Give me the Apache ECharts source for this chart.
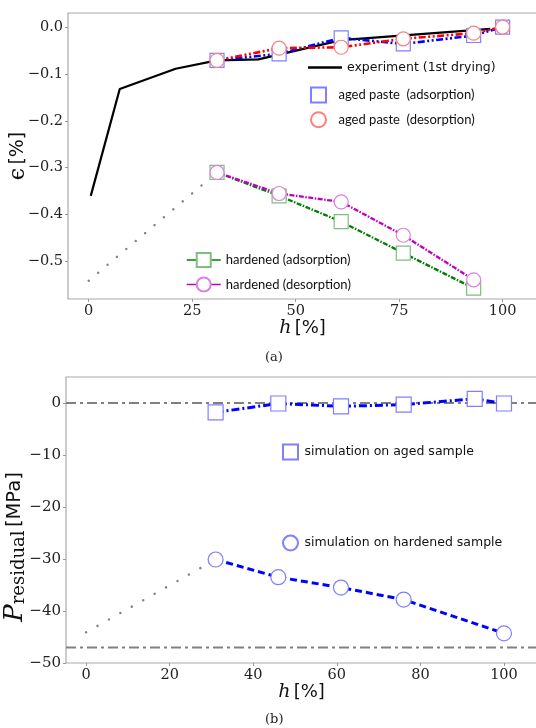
<!DOCTYPE html>
<html>
<head>
<meta charset="utf-8">
<script src="https://cdn.jsdelivr.net/npm/echarts@6/dist/echarts.min.js"></script>
<style>
html,body{margin:0;padding:0;background:#fff;}
#chart{width:536px;height:728px;}
</style>
</head>
<body>
<div id="chart"></div>
<script>
// ---------- data: panel (a) ----------
const hAged = [31, 46, 61, 76, 93, 100];
const agedAdsorption = [-0.071, -0.057, -0.023, -0.036, -0.018, 0.0];
const agedDesorption = [-0.071, -0.045, -0.043, -0.025, -0.013, 0.0];
const hHardA = [31, 46, 61, 76, 93];
const hardenedAdsorption = [-0.31, -0.36, -0.415, -0.482, -0.557];
const hardenedDesorption = [-0.31, -0.355, -0.373, -0.444, -0.539];
const hExperiment = [0.5, 7.5, 21, 31, 41, 61, 97];
const epsExperiment = [-0.36, -0.132, -0.089, -0.071, -0.069, -0.028, -0.004];
const hExtrapA = [0, 31];
const epsExtrapA = [-0.541, -0.31];
const ticksXA = [0, 25, 50, 75, 100];
const ticksYA = [-0.5, -0.4, -0.3, -0.2, -0.1, 0.0];

// ---------- data: panel (b) ----------
const hAgedB = [31, 46, 61, 76, 93, 100];
const pAged = [-1.8, -0.1, -0.65, -0.3, 0.8, -0.1];
const hHardB = [31, 46, 61, 76, 100];
const pHardened = [-30.1, -33.5, -35.5, -37.8, -44.3];
const hExtrapB = [0, 31];
const pExtrapB = [-44.1, -30.1];
const refLevels = [0, -47];
const ticksXB = [0, 20, 40, 60, 80, 100];
const ticksYB = [-50, -40, -30, -20, -10, 0];

const zip = (xs, ys) => xs.map((x, i) => [x, ys[i]]);
const minus = v => (v < 0 ? '\u2212' : '') + Math.abs(v);

const serif = 'DejaVu Serif';
const sans = 'DejaVu Sans';
const legSans = 'Lato';
const gray = '#808080';

const XA = {min: -5, max: 108.3};
const XB = {min: -4.8, max: 107.9};

const sqPath = 'path://M0,0H10V10H0Z';
const circPath = 'path://M5,0A5,5 0 1,1 4.999,0Z';

const chart = echarts.init(document.getElementById('chart'), null, {renderer: 'canvas'});

function axisX(gi, lim, ticks) {
  return {
    type: 'value', gridIndex: gi, min: lim.min, max: lim.max,
    axisLine: {show: false, onZero: false},
    splitLine: {show: false},
    axisTick: {show: true, length: 3, customValues: ticks, lineStyle: {color: '#999'}},
    axisLabel: {customValues: ticks, margin: 5, fontFamily: serif, fontSize: 14.5, color: '#222'},
    name: '{i|h} {s|[%]}', nameLocation: 'middle', nameGap: 20, nameMoveOverlap: false,
    nameTextStyle: {rich: {
      i: {fontFamily: serif, fontStyle: 'italic', fontSize: 19, color: '#111'},
      s: {fontFamily: sans, fontSize: 18, color: '#111'}
    }}
  };
}

const gridBase = {right: -1, height: 286, show: true, borderColor: '#aaa', borderWidth: 1.2,
  containLabel: false, outerBoundsMode: 'none'};

const option = {
  animation: false,
  backgroundColor: '#fff',
  grid: [
    Object.assign({left: 68, top: 13}, gridBase),
    Object.assign({left: 66, top: 377}, gridBase)
  ],
  xAxis: [axisX(0, XA, ticksXA), axisX(1, XB, ticksXB)],
  yAxis: [
    {
      type: 'value', gridIndex: 0, min: -0.58, max: 0.03,
      axisLine: {show: false, onZero: false}, splitLine: {show: false},
      axisTick: {show: true, length: 3, customValues: ticksYA, lineStyle: {color: '#999'}},
      axisLabel: {customValues: ticksYA, margin: 5, fontFamily: serif, fontSize: 14.5, color: '#222',
        formatter: v => (v < 0 ? '\u2212' : '') + Math.abs(v).toFixed(1)},
      name: '{e|\u03f5} {s|[%]}', nameLocation: 'middle', nameGap: 39, nameRotate: 90,
      nameMoveOverlap: false,
      nameTextStyle: {rich: {
        e: {fontFamily: serif, fontSize: 22, color: '#111'},
        s: {fontFamily: sans, fontSize: 19, color: '#111'}
      }}
    },
    {
      type: 'value', gridIndex: 1, min: -50, max: 5,
      axisLine: {show: false, onZero: false}, splitLine: {show: false},
      axisTick: {show: true, length: 3, customValues: ticksYB, lineStyle: {color: '#999'}},
      axisLabel: {customValues: ticksYB, margin: 5, fontFamily: serif, fontSize: 15, color: '#222',
        formatter: v => minus(v)},
      name: '{p|P}{r|residual} {s|[MPa]}', nameLocation: 'middle', nameGap: 38, nameRotate: 90,
      nameMoveOverlap: false,
      nameTextStyle: {padding: [0, 54, 0, 0], rich: {
        p: {fontFamily: serif, fontStyle: 'italic', fontSize: 26, lineHeight: 26, verticalAlign: 'middle', color: '#111'},
        r: {fontFamily: serif, fontSize: 18, lineHeight: 14, verticalAlign: 'bottom', color: '#111'},
        s: {fontFamily: sans, fontSize: 19.5, lineHeight: 26, verticalAlign: 'middle', color: '#111'}
      }}
    }
  ],
  legend: [
    {
      data: [{name: 'experiment (1st drying)', icon: 'rect', itemStyle: {color: '#000', borderWidth: 0}}],
      left: 303, top: 56, itemWidth: 34, itemHeight: 2.5, selectedMode: false,
      textStyle: {fontFamily: sans, fontSize: 12.5, color: '#111'}
    },
    {
      data: [
        {name: 'aged paste  (adsorption)', icon: sqPath},
        {name: 'aged paste  (desorption)', icon: circPath}
      ],
      orient: 'vertical', left: 305, top: 81.5, itemWidth: 30, itemHeight: 15, itemGap: 7.7,
      selectedMode: false, symbolKeepAspect: true,
      textStyle: {fontFamily: legSans, fontSize: 13, color: '#111'}
    },
    {
      data: ['hardened (adsorption)', 'hardened (desorption)'],
      orient: 'vertical', left: 181, top: 247, itemWidth: 34, itemHeight: 17.5, itemGap: 8.5,
      selectedMode: false,
      lineStyle: {type: 'solid', width: 1.5},
      textStyle: {fontFamily: legSans, fontSize: 13, color: '#111'}
    },
    {
      data: [
        {name: 'simulation on aged sample', icon: sqPath},
        {name: 'simulation on hardened sample', icon: circPath}
      ],
      orient: 'vertical', left: 277, top: 438.5, itemWidth: 18, itemHeight: 15, itemGap: 74,
      selectedMode: false, symbolKeepAspect: true,
      textStyle: {fontFamily: sans, fontSize: 12.5, color: '#111'}
    }
  ],
  series: [
    // ---- panel (a) ----
    {
      name: 'extrapA', type: 'line', xAxisIndex: 0, yAxisIndex: 0, data: zip(hExtrapA, epsExtrapA),
      symbol: 'none', silent: true,
      lineStyle: {color: gray, width: 2.4, type: [0.1, 12.2], cap: 'round'}
    },
    {
      name: 'experiment (1st drying)', type: 'line', xAxisIndex: 0, yAxisIndex: 0,
      data: zip(hExperiment, epsExperiment), symbol: 'none', silent: true,
      lineStyle: {color: '#000', width: 2.2}, itemStyle: {color: '#000'}
    },
    {
      name: 'aged paste  (adsorption)', type: 'line', xAxisIndex: 0, yAxisIndex: 0,
      data: zip(hAged, agedAdsorption), symbol: 'rect', symbolSize: 14, silent: true,
      lineStyle: {color: '#0000ff', width: 2.6, type: [7, 2.5, 2, 2.5, 2, 2.5]},
      itemStyle: {color: '#fff', borderColor: '#7f7fff', borderWidth: 1.2}
    },
    {
      name: 'aged paste  (desorption)', type: 'line', xAxisIndex: 0, yAxisIndex: 0,
      data: zip(hAged, agedDesorption), symbol: 'circle', symbolSize: 14, silent: true,
      lineStyle: {color: '#ff0000', width: 2.6, type: [7, 2.5, 2, 2.5, 2, 2.5]},
      itemStyle: {color: '#fff', borderColor: '#ff7f7f', borderWidth: 1.2}
    },
    {
      name: 'hardened (adsorption)', type: 'line', xAxisIndex: 0, yAxisIndex: 0,
      data: zip(hHardA, hardenedAdsorption), symbol: 'rect', symbolSize: 14, silent: true,
      lineStyle: {color: '#008000', width: 2.3, type: [5, 1.5, 1.5, 1.5]},
      itemStyle: {color: '#fff', borderColor: '#7fbf7f', borderWidth: 1.2}
    },
    {
      name: 'hardened (desorption)', type: 'line', xAxisIndex: 0, yAxisIndex: 0,
      data: zip(hHardA, hardenedDesorption), symbol: 'circle', symbolSize: 14, silent: true,
      lineStyle: {color: '#bf00bf', width: 2.3, type: [5, 1.5, 1.5, 1.5]},
      itemStyle: {color: '#fff', borderColor: '#df7fdf', borderWidth: 1.2}
    },
    // ---- panel (b) ----
    {
      name: 'ref0', type: 'line', xAxisIndex: 1, yAxisIndex: 1,
      data: [[XB.min, refLevels[0]], [XB.max, refLevels[0]]], symbol: 'none', silent: true,
      lineStyle: {color: gray, width: 2, type: [10, 4, 3, 4]}
    },
    {
      name: 'ref1', type: 'line', xAxisIndex: 1, yAxisIndex: 1,
      data: [[XB.min, refLevels[1]], [XB.max, refLevels[1]]], symbol: 'none', silent: true,
      lineStyle: {color: gray, width: 2, type: [10, 4, 3, 4]}
    },
    {
      name: 'extrapB', type: 'line', xAxisIndex: 1, yAxisIndex: 1, data: zip(hExtrapB, pExtrapB),
      symbol: 'none', silent: true,
      lineStyle: {color: gray, width: 2.4, type: [0.1, 13], cap: 'round'}
    },
    {
      name: 'simulation on aged sample', type: 'line', xAxisIndex: 1, yAxisIndex: 1,
      data: zip(hAgedB, pAged), symbol: 'rect', symbolSize: 15, silent: true,
      lineStyle: {color: '#0000ff', width: 3, type: [8, 3, 2, 3]},
      itemStyle: {color: '#fff', borderColor: '#7f7fff', borderWidth: 1.2}
    },
    {
      name: 'simulation on hardened sample', type: 'line', xAxisIndex: 1, yAxisIndex: 1,
      data: zip(hHardB, pHardened), symbol: 'circle', symbolSize: 15, silent: true,
      lineStyle: {color: '#0000ff', width: 3, type: [7, 4]},
      itemStyle: {color: '#fff', borderColor: '#7f7fff', borderWidth: 1.2}
    }
  ],
  graphic: [
    {type: 'text', left: 265, top: 351, style: {text: '(a)', fontFamily: serif, fontSize: 13, fill: '#222'}},
    {type: 'text', left: 265, top: 713, style: {text: '(b)', fontFamily: serif, fontSize: 13, fill: '#222'}}
  ]
};
chart.setOption(option);
</script>
</body>
</html>
